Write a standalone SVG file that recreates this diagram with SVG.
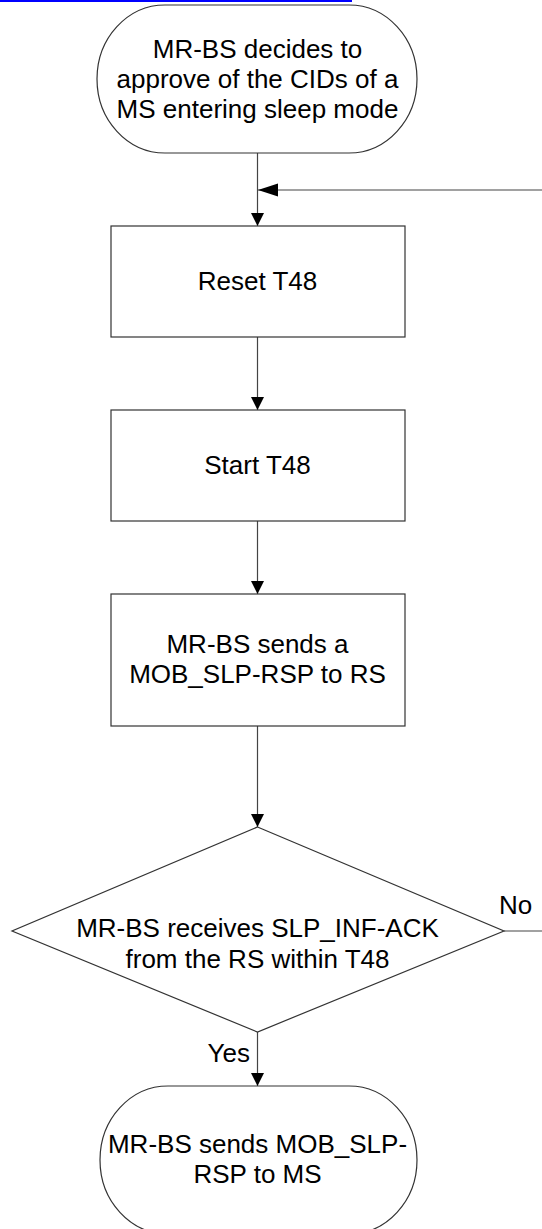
<svg xmlns="http://www.w3.org/2000/svg" width="542" height="1229" viewBox="0 0 542 1229">
<style>
.shape{fill:#fff;stroke:#333;stroke-width:1.2}
.conn{fill:none;stroke:#444;stroke-width:1.2}
.t{font-family:"Liberation Sans",Arial,sans-serif;font-size:26px;fill:#000;text-anchor:middle}
.lbl{font-family:"Liberation Sans",Arial,sans-serif;font-size:26px;fill:#000}
</style>
<defs>
<marker id="arr" markerUnits="userSpaceOnUse" markerWidth="13" markerHeight="14" refX="13" refY="7" orient="auto"><path d="M0,0.5 L13,7 L0,13.5 Z" fill="#000"/></marker>
<marker id="arrL" markerUnits="userSpaceOnUse" markerWidth="20" markerHeight="14" refX="20" refY="7" orient="auto"><path d="M0,0.5 L20,7 L0,13.5 Z" fill="#000"/></marker>
</defs>
<rect x="0" y="0" width="352" height="2" fill="#0000ff"/>
<g id="connectors">
<path class="conn" d="M257.5,153 V226" marker-end="url(#arr)"/>
<path class="conn" d="M542,190 H258" marker-end="url(#arrL)"/>
<path class="conn" d="M257.5,337 V410" marker-end="url(#arr)"/>
<path class="conn" d="M257.5,521 V594" marker-end="url(#arr)"/>
<path class="conn" d="M257.5,726 V827" marker-end="url(#arr)"/>
<path class="conn" d="M257.5,1032 V1086" marker-end="url(#arr)"/>
<path class="conn" d="M504,931 H542"/>
<text class="lbl" x="499" y="914">No</text>
<text class="lbl" x="250" y="1062" text-anchor="end">Yes</text>
</g>
<g id="start">
<rect class="shape" x="97" y="5" width="320" height="148" rx="68" ry="74"/>
<text class="t" x="257.5" y="58">MR-BS decides to</text>
<text class="t" x="257.5" y="88">approve of the CIDs of a</text>
<text class="t" x="257.5" y="118">MS entering sleep mode</text>
</g>
<g id="reset">
<rect class="shape" x="111" y="226" width="294" height="111"/>
<text class="t" x="257.5" y="290">Reset T48</text>
</g>
<g id="startT48">
<rect class="shape" x="111" y="410" width="294" height="111"/>
<text class="t" x="257.5" y="474">Start T48</text>
</g>
<g id="send">
<rect class="shape" x="111" y="594" width="294" height="132"/>
<text class="t" x="257.5" y="653">MR-BS sends a</text>
<text class="t" x="257.5" y="683">MOB_SLP-RSP to RS</text>
</g>
<g id="decision">
<polygon class="shape" points="257.5,827 504,931 257.5,1032 12,931"/>
<text class="t" x="257.5" y="937">MR-BS receives SLP_INF-ACK</text>
<text class="t" x="257.5" y="968">from the RS within T48</text>
</g>
<g id="end">
<rect class="shape" x="100" y="1086" width="317" height="148" rx="68" ry="74"/>
<text class="t" x="257.5" y="1153">MR-BS sends MOB_SLP-</text>
<text class="t" x="257.5" y="1183">RSP to MS</text>
</g>
</svg>
